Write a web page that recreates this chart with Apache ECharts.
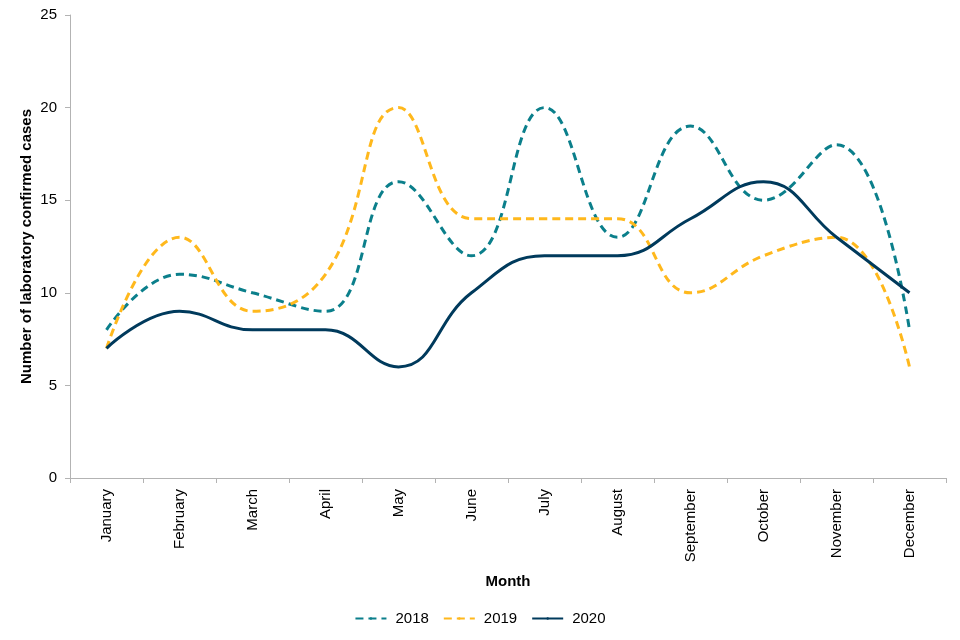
<!DOCTYPE html>
<html>
<head>
<meta charset="utf-8">
<script src="https://cdn.jsdelivr.net/npm/echarts@6/dist/echarts.min.js"></script>
<style>
html,body{margin:0;padding:0;background:#fff;}
#chart{width:960px;height:640px;}
</style>
</head>
<body>
<div id="chart"></div>
<script>
const months = ['January','February','March','April','May','June','July','August','September','October','November','December'];
const cases2018 = [8, 11, 10, 9, 16, 12, 20, 13, 19, 15, 18, 8];
const cases2019 = [7, 13, 9, 11, 20, 14, 14, 14, 10, 12, 13, 6];
const cases2020 = [7, 9, 8, 8, 6, 10, 12, 12, 14, 16, 13, 10];
const yTicks = [0, 5, 10, 15, 20, 25];

const font = 'Liberation Sans, Arial, sans-serif';
const chart = echarts.init(document.getElementById('chart'));
chart.setOption({
  animation: false,
  textStyle: { fontFamily: font },
  grid: { left: 70, right: 14, top: 15, bottom: 162, containLabel: false },
  legend: {
    bottom: 9,
    left: 'center',
    itemWidth: 31,
    itemHeight: 3,
    itemGap: 14,
    textStyle: { fontSize: 15, color: '#000', fontFamily: font, padding: [0, 0, 0, 4] },
    data: ['2018', '2019', '2020']
  },
  xAxis: {
    type: 'category',
    data: months,
    boundaryGap: true,
    name: 'Month',
    nameLocation: 'middle',
    nameGap: 96,
    nameTextStyle: { fontSize: 15, fontWeight: 'bold', color: '#000', fontFamily: font },
    axisLine: { lineStyle: { color: '#b3b3b3', width: 1 } },
    axisTick: { show: true, alignWithLabel: false, length: 5, lineStyle: { color: '#b3b3b3' } },
    axisLabel: { rotate: 90, fontSize: 15, color: '#000', margin: 11, fontFamily: font }
  },
  yAxis: {
    type: 'value',
    min: yTicks[0],
    max: yTicks[yTicks.length - 1],
    interval: 5,
    name: 'Number of laboratory confirmed cases',
    nameLocation: 'middle',
    nameGap: 36,
    nameMoveOverlap: false,
    nameTextStyle: { fontSize: 15, fontWeight: 'bold', color: '#000', fontFamily: font },
    axisLine: { show: true, lineStyle: { color: '#b3b3b3', width: 1 } },
    axisTick: { show: true, length: 5, lineStyle: { color: '#b3b3b3' } },
    axisLabel: { fontSize: 15, color: '#000', margin: 13, fontFamily: font },
    splitLine: { show: false }
  },
  series: [
    {
      name: '2018', type: 'line', data: cases2018, smooth: 0.45,
      symbol: 'none',
      lineStyle: { color: '#0b7f8b', width: 3, type: [8, 5] },
      itemStyle: { color: '#0b7f8b' }
    },
    {
      name: '2019', type: 'line', data: cases2019, smooth: 0.45,
      symbol: 'none',
      lineStyle: { color: '#ffb81c', width: 3, type: [8, 5] },
      itemStyle: { color: '#ffb81c' }
    },
    {
      name: '2020', type: 'line', data: cases2020, smooth: 0.45,
      symbol: 'none',
      lineStyle: { color: '#003a5c', width: 3 },
      itemStyle: { color: '#003a5c' }
    }
  ]
});
</script>
</body>
</html>
